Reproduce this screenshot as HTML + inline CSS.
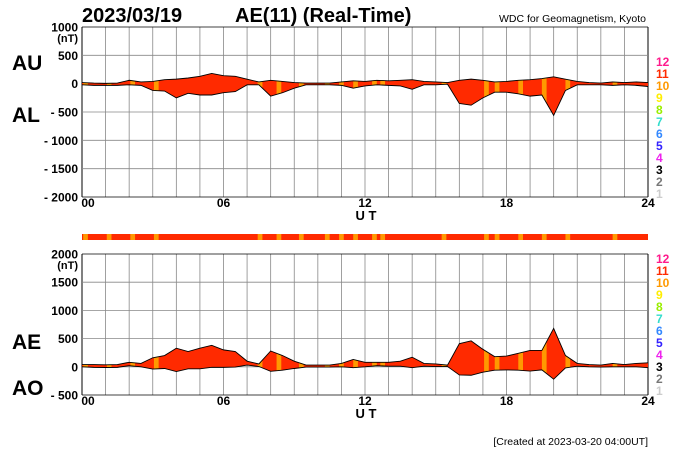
<!DOCTYPE html>
<html><head><meta charset="utf-8"><style>
body{margin:0;background:#fff;}
svg{display:block;font-family:"Liberation Sans",sans-serif;}
.b{font-weight:bold;}
</style></head><body>
<svg id="c" width="700" height="450" viewBox="0 0 700 450">
<text x="82" y="22" class="b" font-size="20">2023/03/19</text>
<text x="235" y="22" class="b" font-size="20">AE(11) (Real-Time)</text>
<text x="646" y="22" font-size="10.5" text-anchor="end">WDC for Geomagnetism, Kyoto</text>
<text x="12" y="70" class="b" font-size="21">AU</text>
<text x="12" y="122" class="b" font-size="21">AL</text>
<text x="12" y="349" class="b" font-size="21">AE</text>
<text x="12" y="395" class="b" font-size="21">AO</text>
<text x="648" y="445" font-size="10.5" text-anchor="end">[Created at 2023-03-20 04:00UT]</text>
<g id="g"></g>
</svg>
<script>
const hours = [0,0.5,1,1.5,2,2.5,3,3.5,4,4.5,5,5.5,6,6.5,7,7.5,8,8.5,9,9.5,10,10.5,11,11.5,12,12.5,13,13.5,14,14.5,15,15.5,16,16.5,17,17.5,18,18.5,19,19.5,20,20.5,21,21.5,22,22.5,23,23.5,24];
const auValues = [20,10,5,10,60,30,40,70,80,100,130,180,140,130,80,30,60,40,20,10,10,10,30,50,40,60,50,60,70,40,30,20,60,80,60,30,40,60,70,90,120,80,40,20,10,30,20,30,20];
const alValues = [-20,-30,-30,-30,-20,-30,-120,-130,-250,-170,-200,-200,-160,-140,-20,-20,-220,-160,-80,-20,-20,-20,-30,-80,-40,-20,-30,-40,-100,-20,-20,-10,-350,-380,-250,-150,-150,-180,-220,-200,-560,-120,-20,-20,-20,-30,-20,-30,-50];
const orangeStarts = [0.05,1.05,2.05,3.05,7.45,8.25,9.2,10.3,10.9,11.5,12.3,12.65,15.25,17.05,17.5,18.5,19.5,20.5,22.5];
const topTicks = [1000,500,0,-500,-1000,-1500,-2000];
const botTicks = [2000,1500,1000,500,0,-500];
const xTickLabels = ["00","06","12","18","24"];
const legendNums = ["12","11","10","9","8","7","6","5","4","3","2","1"];
const legendColors = ["#ff1a8c","#ff2a00","#ff9900","#ffee00","#99ee00","#33ddcc","#3388ff","#3322ff","#ee22ee","#000","#777","#ccc"];
const aeValues = auValues.map((u,i)=>u-alValues[i]);
const aoValues = auValues.map((u,i)=>(u+alValues[i])/2);

const NS="http://www.w3.org/2000/svg", g=document.getElementById('g');
function mk(t,a,txt){const e=document.createElementNS(NS,t);for(const k in a)e.setAttribute(k,a[k]);if(txt!==undefined)e.textContent=txt;g.appendChild(e);return e;}
const X0=82,X1=648;
const x=h=>X0+(X1-X0)*h/24;

function panel(id,top,bot,vmax,vmin,ticks,upper,lower,xlabY,legTop){
  const y=v=>top+(vmax-v)/(vmax-vmin)*(bot-top);
  for(let h=0;h<=24;h++){const l=mk('line',{x1:x(h),x2:x(h),y1:top,y2:bot,stroke:h==0||h==24?'#000':'#888','stroke-width':h==0||h==24?1:0.8});
    }
  ticks.forEach(v=>{const l=mk('line',{x1:X0,x2:X1,y1:y(v),y2:y(v),stroke:v==vmax||v==vmin?'#000':'#888','stroke-width':0.8});
    
    const t=mk('text',{x:78,y:y(v)+4.5,'text-anchor':'end','font-size':12,'font-weight':'bold'},v<0?'- '+(-v):String(v));
    });
  const u=mk('text',{x:78,y:y(vmax)+15,'text-anchor':'end','font-size':11,'font-weight':'bold'},'(nT)');
  
  let d='M'+hours.map((h,i)=>x(h)+','+y(upper[i])).join('L');
  for(let i=hours.length-1;i>=0;i--)d+='L'+x(hours[i])+','+y(lower[i]);d+='Z';
  const cp=mk('clipPath',{id:id});const cpp=document.createElementNS(NS,'path');cpp.setAttribute('d',d);cp.appendChild(cpp);
  const a=mk('path',{d:d,fill:'#ff2a00'});
  orangeStarts.forEach(s=>{const r=mk('rect',{x:x(s),y:top,width:x(0.2)-X0,height:bot-top,fill:'#ff9900','clip-path':'url(#'+id+')'});
    });
  const up=mk('polyline',{points:hours.map((h,i)=>x(h)+','+y(upper[i])).join(' '),fill:'none',stroke:'#000','stroke-width':0.9});
  
  const lo=mk('polyline',{points:hours.map((h,i)=>x(h)+','+y(lower[i])).join(' '),fill:'none',stroke:'#000','stroke-width':0.9});
  
  xTickLabels.forEach((s,i)=>{const t=mk('text',{x:x(i*6)+(i==0?6:0),y:xlabY,'text-anchor':'middle','font-size':12,'font-weight':'bold'},s);
    });
  const ut=mk('text',{x:366,y:xlabY+13,'text-anchor':'middle','font-size':13,'font-weight':'bold'},'U T');
  
  legendNums.forEach((n,i)=>{const t=mk('text',{x:656,y:legTop+i*12,'font-size':12,'font-weight':'bold',fill:legendColors[i]},n);
    });
}
panel('c1',27,197,1000,-2000,topTicks,auValues,alValues,207,66);
panel('c2',254,395,2000,-500,botTicks,aeValues,aoValues,405,263);
const bar=mk('rect',{x:X0,y:234,width:X1-X0,height:6,fill:'#ff2a00'});

orangeStarts.forEach(s=>{const r=mk('rect',{x:x(s),y:234,width:x(0.2)-X0,height:6,fill:'#ff9900'});
  });
</script>
</body></html>
